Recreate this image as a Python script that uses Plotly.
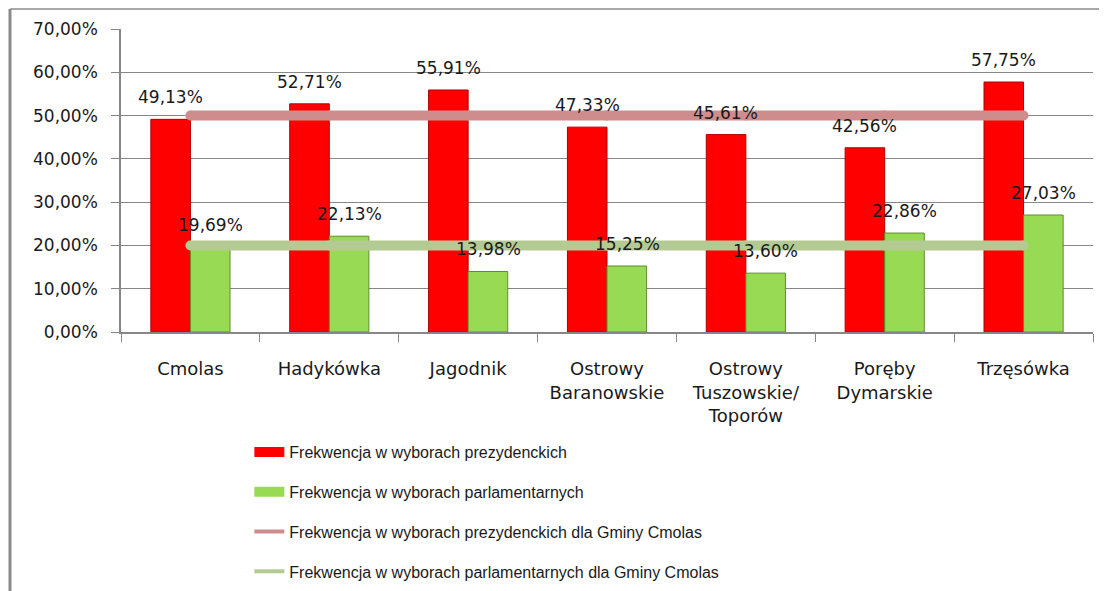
import plotly.graph_objects as go

categories = ["Cmolas", "Hadykówka", "Jagodnik", "Ostrowy<br>Baranowskie",
              "Ostrowy<br>Tuszowskie/<br>Toporów", "Poręby<br>Dymarskie", "Trzęsówka"]
prezydenckie = [49.13, 52.71, 55.91, 47.33, 45.61, 42.56, 57.75]
parlamentarne = [19.69, 22.13, 13.98, 15.25, 13.60, 22.86, 27.03]
gmina_prez = [50.0, 50.0, 50.0, 50.0, 50.0, 50.0, 50.0]
gmina_parl = [20.0, 20.0, 20.0, 20.0, 20.0, 20.0, 20.0]
y_ticks = [0, 10, 20, 30, 40, 50, 60, 70]
y_ticktext = ["0,00%", "10,00%", "20,00%", "30,00%", "40,00%", "50,00%", "60,00%", "70,00%"]

names = ["Frekwencja w wyborach prezydenckich",
         "Frekwencja w wyborach parlamentarnych",
         "Frekwencja w wyborach prezydenckich dla Gminy Cmolas",
         "Frekwencja w wyborach parlamentarnych dla Gminy Cmolas"]

RED = "#FF0000"
GREEN = "#99DA55"
LRED = "#CF8C8C"
LGREEN = "#B4CA93"
GRID = "#878787"

def fmt(v):
    return f"{v:.2f}".replace(".", ",") + "%"

fig = go.Figure()
fig.add_bar(x=categories, y=prezydenckie, name=names[0], showlegend=False,
            marker=dict(color=RED, line=dict(color="#B00000", width=1)))
fig.add_bar(x=categories, y=parlamentarne, name=names[1], showlegend=False,
            marker=dict(color=GREEN, line=dict(color="#5E8E2C", width=1)))
fig.add_scatter(x=categories, y=gmina_prez, name=names[2], mode="lines+markers",
                showlegend=False, line=dict(color=LRED, width=10),
                marker=dict(color=LRED, size=10))
fig.add_scatter(x=categories, y=gmina_parl, name=names[3], mode="lines+markers",
                showlegend=False, line=dict(color=LGREEN, width=10),
                marker=dict(color=LGREEN, size=10))

# legend entries
legend_styles = [(RED, 12), (GREEN, 12), (LRED, 4), (LGREEN, 4)]
for i, (nm, (c, w)) in enumerate(zip(names, legend_styles)):
    fig.add_scatter(x=[None], y=[None], name=nm, mode="lines",
                    line=dict(color=c, width=w), legendgroup=f"g{i}")

annotations = []
for cat, v in zip(categories, prezydenckie):
    annotations.append(dict(x=cat, y=v, xref="x", yref="y", text=fmt(v),
                            showarrow=False, yanchor="bottom", xshift=-20, yshift=10,
                            font=dict(family="DejaVu Sans", size=17, color="#1a1a1a")))
for cat, v in zip(categories, parlamentarne):
    annotations.append(dict(x=cat, y=v, xref="x", yref="y", text=fmt(v),
                            showarrow=False, yanchor="bottom", xshift=20, yshift=10,
                            font=dict(family="DejaVu Sans", size=17, color="#1a1a1a")))

fig.update_layout(
    width=1099, height=583,
    margin=dict(l=113, r=14, t=21, b=259, autoexpand=False),
    paper_bgcolor="white", plot_bgcolor="white",
    barmode="group", bargap=0.43, bargroupgap=0,
    annotations=annotations,
    font=dict(family="DejaVu Sans", size=16, color="#1a1a1a"),
    legend=dict(xref="container", yref="container", x=0.2196, y=0.2676,
                xanchor="left", yanchor="top",
                tracegroupgap=16, bgcolor="rgba(0,0,0,0)",
                font=dict(family="Liberation Sans", size=16, color="#1a1a1a")),
    shapes=[
        dict(type="line", xref="paper", yref="paper", x0=-0.114, x1=1.02,
             y0=1.066, y1=1.066, line=dict(color="#8a8a8a", width=1.5)),
        dict(type="line", xref="paper", yref="paper", x0=-0.1142, x1=-0.1142,
             y0=1.066, y1=-0.86, line=dict(color="#8a8a8a", width=3)),
    ],
)
fig.update_yaxes(range=[0, 70], tickvals=y_ticks, ticktext=y_ticktext,
                 showgrid=True, gridcolor=GRID, gridwidth=1,
                 showline=True, linecolor=GRID, linewidth=1.5,
                 ticks="outside", ticklen=8, tickcolor=GRID, ticklabelstandoff=10,
                 zeroline=False, automargin=False,
                 tickfont=dict(family="DejaVu Sans", size=17, color="#1a1a1a"))
fig.update_xaxes(showline=True, linecolor=GRID, linewidth=1.5,
                 ticks="outside", tickson="boundaries", ticklen=8, tickcolor=GRID,
                 ticklabelstandoff=20, automargin=False,
                 tickfont=dict(family="DejaVu Sans", size=18, color="#1a1a1a"))

fig.write_html("out.html")
